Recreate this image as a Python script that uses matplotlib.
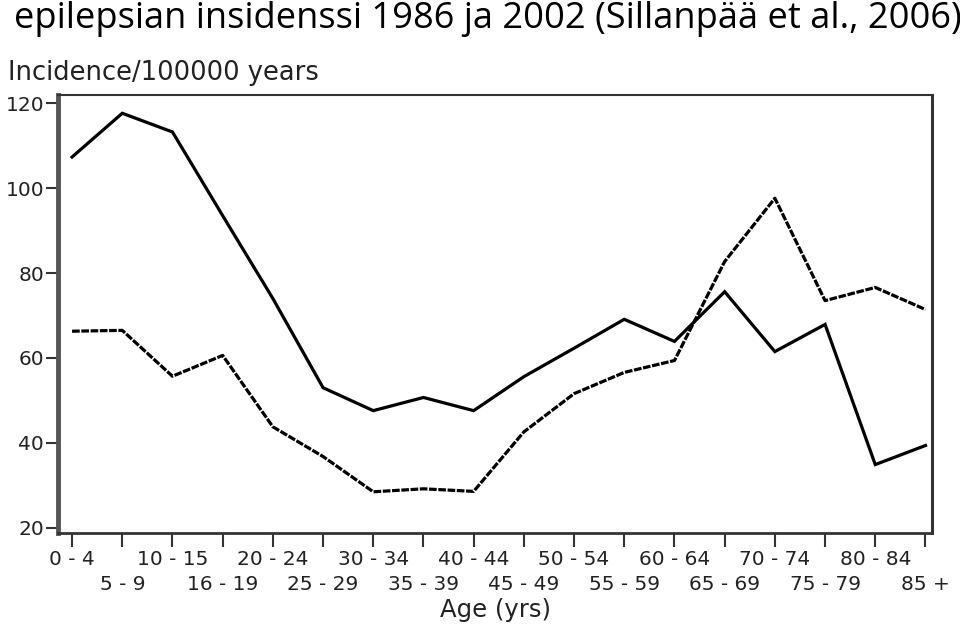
import matplotlib
matplotlib.use("Agg")
import matplotlib.pyplot as plt

# Ikäryhmät ja insidenssit (luettu kuvasta)
age_groups = ['0 - 4', '5 - 9', '10 - 15', '16 - 19', '20 - 24', '25 - 29',
              '30 - 34', '35 - 39', '40 - 44', '45 - 49', '50 - 54', '55 - 59',
              '60 - 64', '65 - 69', '70 - 74', '75 - 79', '80 - 84', '85 +']
inc_1986 = [107.3, 117.6, 113.2, 93.5, 74.0, 53.0, 47.6, 50.7, 47.6, 55.6,
            62.3, 69.1, 63.9, 75.6, 61.5, 67.9, 34.9, 39.4]
inc_2002 = [66.3, 66.5, 55.7, 60.6, 43.8, 36.8, 28.5, 29.2, 28.6, 42.6,
            51.6, 56.6, 59.4, 82.7, 97.6, 73.5, 76.6, 71.4]
y_ticks = [20, 40, 60, 80, 100, 120]

font = ['DejaVu Sans']
txt = '#222222'

fig = plt.figure(figsize=(9.6, 6.27), dpi=100)
ax = fig.add_axes([58/960, 1-533/627, (932-58)/960, (533-95)/627])

x = list(range(len(age_groups)))
ax.plot(x, inc_1986, color='black', lw=2.3, solid_joinstyle='miter')
ax.plot(x, inc_2002, color='black', lw=2.3, dashes=(2.4, 0.5))

ax.set_xlim(-0.28, 17.13)
ax.set_ylim(18.8, 121.9)
ax.set_yticks(y_ticks)
ax.set_yticklabels([str(v) for v in y_ticks], family=font, fontsize=14.5, color=txt)

# parilliset ryhmät ylärivillä, parittomat alarivillä
ax.set_xticks(x[0::2])
ax.set_xticklabels(age_groups[0::2], family=font, fontsize=14.5, color=txt)
ax.set_xticks(x[1::2], minor=True)
ax.set_xticklabels(age_groups[1::2], minor=True, family=font, fontsize=14.5, color=txt)
ax.tick_params(axis='x', which='both', length=10, width=1.5, color='#333333')
ax.tick_params(axis='x', which='major', pad=2)
ax.tick_params(axis='x', which='minor', pad=20)
ax.tick_params(axis='y', length=9, width=1.5, color='#333333', pad=1)
for side in ['left', 'bottom', 'right', 'top']:
    ax.spines[side].set_color('#333333')
ax.spines['left'].set_linewidth(3.5)
ax.spines['left'].set_color('#555555')
ax.spines['bottom'].set_linewidth(2)
ax.spines['right'].set_linewidth(2.2)
ax.spines['top'].set_linewidth(1.5)

ax.set_xlabel('Age (yrs)', family=font, fontsize=17.5, color=txt, labelpad=3)
fig.text(8/960, 1-73/627, 'Incidence/100000 years', family=font, fontsize=18.5,
         color=txt, va='center', ha='left')

fig.text(14/960, 1-19/627, 'epilepsian insidenssi 1986 ja 2002 (Sillanpää et al., 2006)',
         family=['Open Sans', 'DejaVu Sans'], fontsize=26.1, color='black',
         va='center', ha='left')

fig.savefig('out.png', dpi=100)
